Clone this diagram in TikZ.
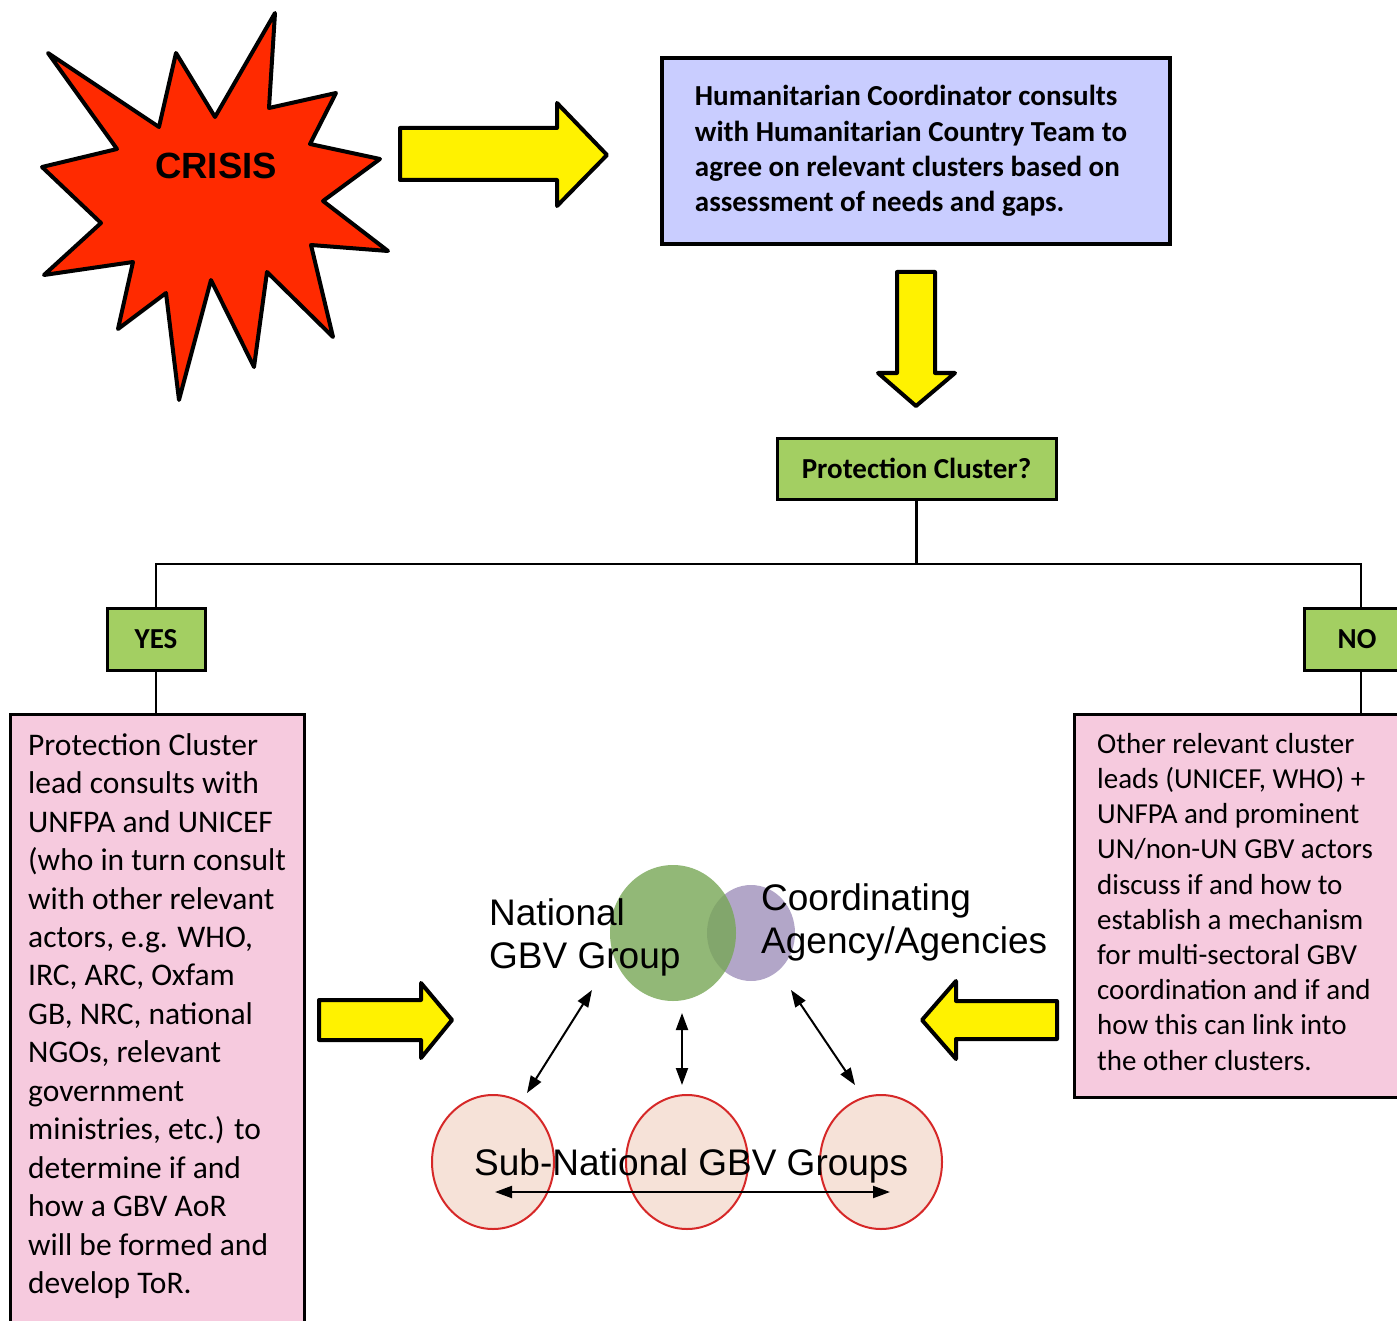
\documentclass[tikz,border=0pt]{standalone}
\usepackage{fontspec}
\setmainfont{Carlito}
\newfontfamily\arialf{Liberation Sans}
\usetikzlibrary{shapes.geometric,arrows.meta}
\definecolor{crisisred}{RGB}{255,42,0}
\definecolor{hcblue}{RGB}{201,205,255}
\definecolor{qgreen}{RGB}{163,207,98}
\definecolor{boxpink}{RGB}{246,202,222}
\definecolor{natgreen}{RGB}{119,166,85}
\definecolor{coordpurple}{RGB}{178,166,200}
\definecolor{subfill}{RGB}{246,226,216}
\definecolor{subred}{RGB}{214,40,40}
\tikzset{
  yarrow/.style={draw=black, fill=yellow, line width=4pt, line join=round},
  qbox/.style={draw=black, fill=qgreen, line width=3pt, inner sep=0pt,
    font=\fontsize{29}{35}\selectfont\bfseries},
  pinkbox/.style={draw=black, fill=boxpink, line width=2.5pt, inner sep=0pt},
  ptext/.style={anchor=north west, align=left, inner sep=0pt},
  link/.style={draw=black, line width=2.5pt},
  dbl/.style={draw=black, line width=2pt, {Triangle[length=17pt,width=12pt]}-{Triangle[length=17pt,width=12pt]}},
  subgrp/.style={ellipse, draw=subred, fill=subfill, line width=2pt, minimum width=122pt, minimum height=134pt, inner sep=0pt},
  arialtext/.style={align=left, inner sep=0pt, font=\arialf\fontsize{37}{43.5}\selectfont}
}
\begin{document}
\begin{tikzpicture}[x=1pt,y=-1pt]
\useasboundingbox (0,0) rectangle (1397,1321);
\clip (0,0) rectangle (1397,1321);

% crisis starburst
\draw[fill=crisisred, line width=4pt, line join=round]
  (48,53) -- (159,127) -- (176,53) -- (215,117) -- (275,13) -- (269,108)
  -- (336,93) -- (310,144) -- (380,159) -- (323,201) -- (388,251)
  -- (311,245) -- (333,337) -- (267,272) -- (254,367) -- (211,280)
  -- (179,400) -- (166,293) -- (118,329) -- (133,262) -- (44,275)
  -- (101,223) -- (42,167) -- (117,149) -- cycle;
\node[inner sep=0pt, font=\arialf\bfseries\fontsize{36.5}{40}\selectfont] (crisis) at (216,165.5) {CRISIS};

% right yellow arrow
\draw[yarrow] (400,128) -- (557,128) -- (557,103) -- (607,155) -- (557,206)
  -- (557,180) -- (400,180) -- cycle;

% HC box
\node[draw=black, fill=hcblue, line width=4.5pt, minimum width=508pt, minimum height=186pt,
  inner sep=0pt, align=left, font=\fontsize{29}{35.3}\selectfont\bfseries] (hc) at (916,151)
  {Humanitarian Coordinator consults\\with Humanitarian Country Team to\rule{10pt}{0pt}\\agree on relevant clusters based on\\assessment of needs and gaps.};

% down arrow
\draw[yarrow] (897,272) -- (935,272) -- (935,373) -- (955,373) -- (916,406)
  -- (878,373) -- (897,373) -- cycle;

% protection cluster question
\node[qbox, minimum width=279pt, minimum height=61pt] (pc) at (916.5,468.5) {Protection Cluster?};
\node[qbox, minimum width=98pt, minimum height=62pt] (yes) at (156,639) {YES};
\node[qbox, minimum width=114pt, minimum height=62pt] (no) at (1361,639) {\hspace*{-8pt}NO};

\coordinate (junc) at (916.5,564);
\draw[link] (pc.south) -- (junc) -| (yes.north);
\draw[link] (junc) -| (no.north);

% pink boxes
\node[pinkbox, minimum width=294pt, minimum height=660pt, anchor=north west] (lbox) at (9,713) {};
\node[pinkbox, minimum width=400pt, minimum height=383pt, anchor=north west] (rbox) at (1073,713) {};
\draw[link] (yes.south) -- (yes.south |- lbox.north);
\draw[link] (no.south) -- (no.south |- rbox.north);

\node[ptext, font=\fontsize{31.5}{38.45}\selectfont] (ltext) at (28,725) {\rule{0pt}{30pt}Protection Cluster\\lead consults with\\UNFPA and UNICEF\\(who in turn consult\\with other relevant\\actors, e.g. WHO,\\IRC, ARC, Oxfam\\GB, NRC, national\\NGOs, relevant\\government\\ministries, etc.) to\\determine if and\\how a GBV AoR\\will be formed and\\develop ToR.};

\node[ptext, font=\fontsize{29}{35.2}\selectfont] (rtext) at (1097,725) {\rule{0pt}{28pt}Other relevant cluster\\leads (UNICEF, WHO) +\\UNFPA and prominent\\UN/non-UN GBV actors\\discuss if and how to\\establish a mechanism\\for multi-sectoral GBV\\coordination and if and\\how this can link into\\the other clusters.};

% middle yellow arrows
\draw[yarrow] (319,1000) -- (421,1000) -- (421,983) -- (452,1020) -- (421,1058)
  -- (421,1040) -- (319,1040) -- cycle;
\draw[yarrow] (1057,1001) -- (956,1001) -- (956,981) -- (922,1020) -- (956,1059)
  -- (956,1039) -- (1057,1039) -- cycle;

% national / coordinating
\node[ellipse, fill=coordpurple, minimum width=88pt, minimum height=96pt, inner sep=0pt] (coord) at (751,933) {};
\node[ellipse, fill=natgreen, fill opacity=0.8, minimum width=126pt, minimum height=136pt, inner sep=0pt] (nat) at (673,933) {};
\node[arialtext, anchor=north west] (natlabel) at (489,895) {\rule{0pt}{30pt}National\\GBV Group};
\node[arialtext, anchor=north west] (coordlabel) at (761,880) {\rule{0pt}{30pt}Coordinating\\Agency/Agencies};

% sub-national groups
\node[subgrp] (sub1) at (493,1162) {};
\node[subgrp] (sub2) at (687,1162) {};
\node[subgrp] (sub3) at (881,1162) {};
\node[arialtext, anchor=base west] (sublabel) at (474,1175) {Sub-National GBV Groups};

% arrows
\coordinate (a1s) at (527,1093); \coordinate (a1e) at (592,990);
\coordinate (a2s) at (682,1085); \coordinate (a2e) at (682,1013);
\coordinate (a3s) at (855,1085); \coordinate (a3e) at (791,990);
\coordinate (h1) at (495,1192); \coordinate (h2) at (890,1192);
\draw[dbl] (a1s) -- (a1e);
\draw[dbl] (a2s) -- (a2e);
\draw[dbl] (a3s) -- (a3e);
\draw[dbl] (h1) -- (h2);
\end{tikzpicture}
\end{document}
